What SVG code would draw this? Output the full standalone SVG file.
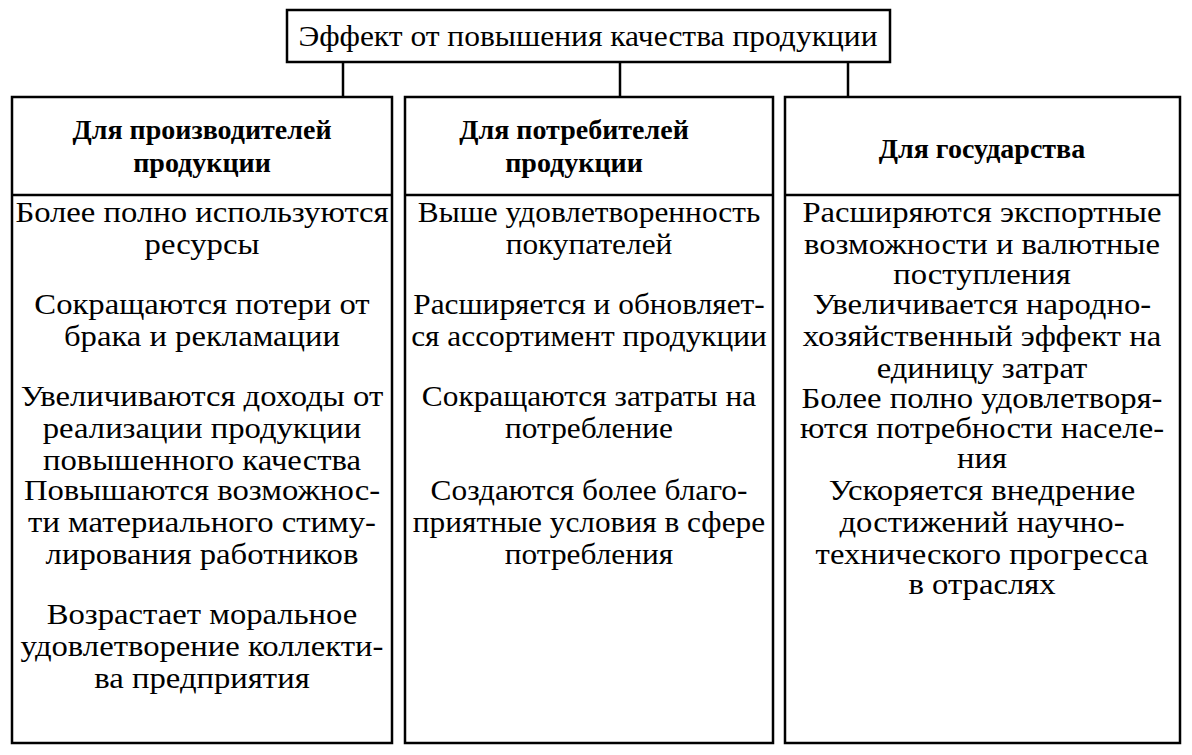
<svg xmlns="http://www.w3.org/2000/svg" width="1192" height="755" viewBox="0 0 1192 755">
<style>
.box{fill:#fff;stroke:#000;stroke-width:2.5}
.ln{stroke:#000;stroke-width:2.5;fill:none}
text{font-family:"Liberation Serif","DejaVu Serif",serif;fill:#000;text-anchor:middle}
.t{font-size:30px}
.h{font-size:28px;font-weight:bold}
.top{font-size:30px}
</style>
<rect width="1192" height="755" fill="#fff"/>
<g id="connectors">
<line class="ln" x1="343" y1="62" x2="343" y2="97"/>
<line class="ln" x1="620" y1="62" x2="620" y2="97"/>
<line class="ln" x1="848" y1="62" x2="848" y2="97"/>
</g>
<g id="top">
<rect class="box" x="287" y="10" width="603" height="52"/>
<g transform="matrix(1.05 0 0 1 -29.4 0)">
<text class="top" x="588" y="46">Эффект от повышения качества продукции</text>
</g>
</g>
<g id="producers">
<rect class="box" x="12" y="97" width="380" height="646"/>
<line class="ln" x1="12" y1="195" x2="392" y2="195"/>
<text class="h" x="202" y="139">Для производителей</text>
<text class="h" x="202" y="172">продукции</text>
<g transform="matrix(1.09 0 0 1 -18.18 0)">
<text class="t" x="202" y="222">Более полно используются</text>
<text class="t" x="202" y="254">ресурсы</text>
<text class="t" x="202" y="314">Сокращаются потери от</text>
<text class="t" x="202" y="346">брака и рекламации</text>
<text class="t" x="202" y="406">Увеличиваются доходы от</text>
<text class="t" x="202" y="438">реализации продукции</text>
<text class="t" x="202" y="470">повышенного качества</text>
<text class="t" x="202" y="500">Повышаются возможнос-</text>
<text class="t" x="202" y="532">ти материального стиму-</text>
<text class="t" x="202" y="564">лирования работников</text>
<text class="t" x="202" y="624">Возрастает моральное</text>
<text class="t" x="202" y="656">удовлетворение коллекти-</text>
<text class="t" x="202" y="688">ва предприятия</text>
</g>
</g>
<g id="consumers">
<rect class="box" x="405" y="97" width="368" height="646"/>
<line class="ln" x1="405" y1="195" x2="773" y2="195"/>
<text class="h" x="574" y="139">Для потребителей</text>
<text class="h" x="574" y="172">продукции</text>
<g transform="matrix(1.045 0 0 1 -26.5 0)">
<text class="t" x="589" y="222">Выше удовлетворенность</text>
<text class="t" x="589" y="254">покупателей</text>
<text class="t" x="589" y="314">Расширяется и обновляет-</text>
<text class="t" x="589" y="346">ся ассортимент продукции</text>
<text class="t" x="589" y="406">Сокращаются затраты на</text>
<text class="t" x="589" y="438">потребление</text>
<text class="t" x="589" y="500">Создаются более благо-</text>
<text class="t" x="589" y="532">приятные условия в сфере</text>
<text class="t" x="589" y="564">потребления</text>
</g>
</g>
<g id="state">
<rect class="box" x="785" y="97" width="395" height="646"/>
<line class="ln" x1="785" y1="195" x2="1180" y2="195"/>
<text class="h" x="982" y="158">Для государства</text>
<g transform="matrix(1.09 0 0 1 -88.38 0)">
<text class="t" x="982" y="222">Расширяются экспортные</text>
<text class="t" x="982" y="254">возможности и валютные</text>
<text class="t" x="982" y="284">поступления</text>
<text class="t" x="982" y="314">Увеличивается народно-</text>
<text class="t" x="982" y="346">хозяйственный эффект на</text>
<text class="t" x="982" y="378">единицу затрат</text>
<text class="t" x="982" y="408">Более полно удовлетворя-</text>
<text class="t" x="982" y="438">ются потребности населе-</text>
<text class="t" x="982" y="468">ния</text>
<text class="t" x="982" y="500">Ускоряется внедрение</text>
<text class="t" x="982" y="532">достижений научно-</text>
<text class="t" x="982" y="564">технического прогресса</text>
<text class="t" x="982" y="594">в отраслях</text>
</g>
</g>
</svg>
